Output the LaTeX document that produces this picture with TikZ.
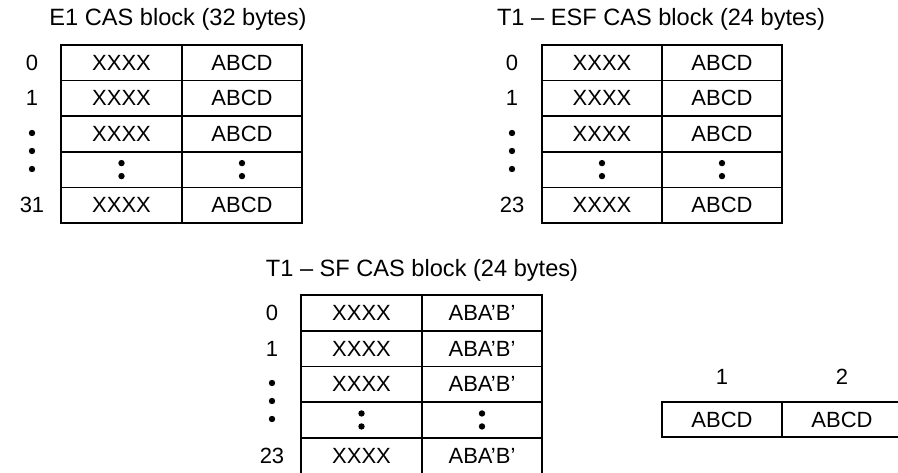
\documentclass[tikz,border=0pt]{standalone}
\usepackage{fontspec}
\setmainfont{Liberation Sans}
\begin{document}
\begin{tikzpicture}[x=1pt,y=-1pt,
  cell/.style={draw=black,line width=1.6pt,rectangle,inner sep=0pt,outer sep=0pt,
    minimum width=120pt,minimum height=35.7pt,font=\fontsize{22}{26}\selectfont},
  lbl/.style={inner sep=0pt,font=\fontsize{22}{26}\selectfont},
  ttl/.style={inner sep=0pt,font=\fontsize{23.6}{28}\selectfont},
  dotr/.style={fill=black}]
\clip (0,0) rectangle (898,472);
\fill[white] (0,0) rectangle (898,472);
% ---------- E1 block ----------
\node[ttl] (e1t) at (178,19) {E1 CAS block (32 bytes)};
\foreach \r/\y in {1/62.8,2/98.4,3/134,4/169.6,5/205.2}{
  \node[cell,minimum width=121pt,minimum height=35.6pt] (e1a\r) at (121.5,\y) {};
  \node[cell,minimum height=35.6pt] (e1b\r) at (242,\y) {};
}
\foreach \r in {1,2,3,5}{
  \node[lbl] at (e1a\r) {XXXX};
  \node[lbl] at (e1b\r) {ABCD};
}
\node[lbl] (e1l0) at (32,62.8) {0};
\node[lbl] (e1l1) at (32,98.4) {1};
\node[lbl] (e1l31) at (32,205.2) {31};
\foreach \c in {e1a4,e1b4}{
  \fill[dotr] ([yshift=-6.5pt]\c.center) circle (3.2pt);
  \fill[dotr] ([yshift=6.5pt]\c.center) circle (3.2pt);
}
\foreach \y in {133,151,169}{\fill[dotr] (32,\y) circle (3.2pt);}
% ---------- T1 ESF block ----------
\node[ttl] (esft) at (661,19) {T1 – ESF CAS block (24 bytes)};
\foreach \r/\y in {1/62.8,2/98.4,3/134,4/169.6,5/205.2}{
  \node[cell,minimum height=35.6pt] (esfa\r) at (602,\y) {};
  \node[cell,minimum height=35.6pt] (esfb\r) at (722,\y) {};
}
\foreach \r in {1,2,3,5}{
  \node[lbl] at (esfa\r) {XXXX};
  \node[lbl] at (esfb\r) {ABCD};
}
\node[lbl] (esfl0) at (512,62.8) {0};
\node[lbl] (esfl1) at (512,98.4) {1};
\node[lbl] (esfl23) at (512,205.2) {23};
\foreach \c in {esfa4,esfb4}{
  \fill[dotr] ([yshift=-6.5pt]\c.center) circle (3.2pt);
  \fill[dotr] ([yshift=6.5pt]\c.center) circle (3.2pt);
}
\foreach \y in {133,151,169}{\fill[dotr] (512,\y) circle (3.2pt);}
% ---------- T1 SF block ----------
\node[ttl] (sft) at (422,270) {T1 – SF CAS block (24 bytes)};
\foreach \r/\y in {1/312.85,2/348.55,3/384.25,4/419.95,5/455.65}{
  \node[cell,minimum width=121pt] (sfa\r) at (361.5,\y) {};
  \node[cell] (sfb\r) at (482,\y) {};
}
\foreach \r in {1,2,3,5}{
  \node[lbl] at (sfa\r) {XXXX};
  \node[lbl] at (sfb\r) {ABA’B’};
}
\node[lbl] (sfl0) at (272,312.85) {0};
\node[lbl] (sfl1) at (272,348.55) {1};
\node[lbl] (sfl23) at (272,455.65) {23};
\foreach \c in {sfa4,sfb4}{
  \fill[dotr] ([yshift=-6.5pt]\c.center) circle (3.2pt);
  \fill[dotr] ([yshift=6.5pt]\c.center) circle (3.2pt);
}
\foreach \y in {383,401,419}{\fill[dotr] (272,\y) circle (3.2pt);}
% ---------- small pair ----------
\node[cell,minimum height=35pt] (p1) at (722,419.5) {ABCD};
\node[cell,minimum height=35pt] (p2) at (842,419.5) {ABCD};
\node[lbl] (p1l) at (722,377) {1};
\node[lbl] (p2l) at (842,377) {2};
\end{tikzpicture}
\end{document}
